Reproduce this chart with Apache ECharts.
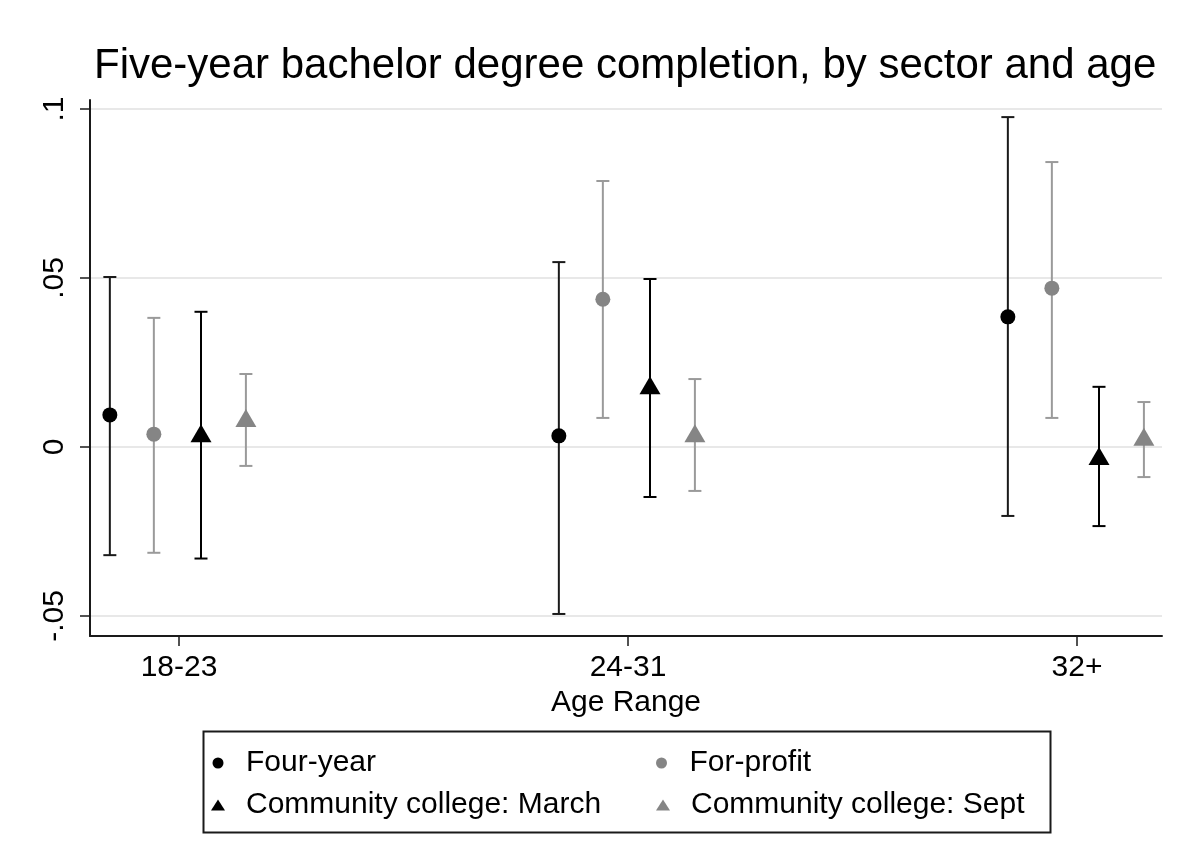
<!DOCTYPE html>
<html>
<head>
<meta charset="utf-8">
<script src="https://cdn.jsdelivr.net/npm/echarts@6/dist/echarts.min.js"></script>
<style>html,body{margin:0;padding:0;background:#fff;}#c{width:1187px;height:867px;}</style>
</head>
<body>
<div id="c"></div>
<script>
// ---- data ----
const categories = ['18-23', '24-31', '32+'];
const yTickValues = [-0.05, 0, 0.05, 0.1];
const seriesNames = ['Four-year', 'For-profit', 'Community college: March', 'Community college: Sept'];

const fourYear     = [0.0095, 0.0033, 0.0385];
const fourYearLo   = [-0.0320, -0.0494, -0.0204];
const fourYearHi   = [0.0503, 0.0547, 0.0976];

const forProfit    = [0.0038, 0.0437, 0.0470];
const forProfitLo  = [-0.0313, 0.0086, 0.0086];
const forProfitHi  = [0.0382, 0.0787, 0.0843];

const ccMarch      = [0.0041, 0.0183, -0.0027];
const ccMarchLo    = [-0.0330, -0.0148, -0.0234];
const ccMarchHi    = [0.0400, 0.0497, 0.0178];

const ccSept       = [0.0086, 0.0041, 0.0030];
const ccSeptLo     = [-0.0056, -0.0130, -0.0089];
const ccSeptHi     = [0.0216, 0.0201, 0.0133];

// ---- presentation ----
const FONT = '"Liberation Sans", Arial, Helvetica, sans-serif';
const dodge = [-0.154, -0.056, 0.049, 0.149];
const groups = [
  {name: seriesNames[0], v: fourYear,  lo: fourYearLo,  hi: fourYearHi,  symbol: 'circle',   size: 15,       color: '#000000', line: '#1a1a1a'},
  {name: seriesNames[1], v: forProfit, lo: forProfitLo, hi: forProfitHi, symbol: 'circle',   size: 15,       color: '#858585', line: '#9a9a9a'},
  {name: seriesNames[2], v: ccMarch,   lo: ccMarchLo,   hi: ccMarchHi,   symbol: 'triangle', size: [21, 18], color: '#000000', line: '#000000'},
  {name: seriesNames[3], v: ccSept,    lo: ccSeptLo,    hi: ccSeptHi,    symbol: 'triangle', size: [21, 18], color: '#858585', line: '#9a9a9a'}
];

function fmtY(v) {
  if (Math.abs(v) < 1e-12) return '0';
  const s = String(Math.abs(+v.toFixed(4))).replace(/^0/, '');
  return (v < 0 ? '-' : '') + s;
}

const series = [];
groups.forEach((g, k) => {
  series.push({
    type: 'custom',
    name: g.name,
    z: 2,
    silent: true,
    data: categories.map((c, i) => [i + 1 + dodge[k], g.lo[i], g.hi[i]]),
    encode: {x: 0, y: [1, 2]},
    renderItem: function (params, api) {
      const x = api.value(0);
      const pLo = api.coord([x, api.value(1)]);
      const pHi = api.coord([x, api.value(2)]);
      const hw = 6.5;
      const st = {stroke: g.line, lineWidth: 2};
      return {
        type: 'group',
        children: [
          {type: 'line', shape: {x1: pLo[0], y1: pLo[1], x2: pHi[0], y2: pHi[1]}, style: st},
          {type: 'line', shape: {x1: pLo[0] - hw, y1: pLo[1], x2: pLo[0] + hw, y2: pLo[1]}, style: st},
          {type: 'line', shape: {x1: pHi[0] - hw, y1: pHi[1], x2: pHi[0] + hw, y2: pHi[1]}, style: st}
        ]
      };
    }
  });
  series.push({
    type: 'scatter',
    name: g.name,
    z: 5,
    symbol: g.symbol,
    symbolSize: g.size,
    itemStyle: {color: g.color, opacity: 1},
    data: categories.map((c, i) => [i + 1 + dodge[k], g.v[i]])
  });
});

const chart = echarts.init(document.getElementById('c'), null, {renderer: 'canvas'});
chart.setOption({
  animation: false,
  backgroundColor: '#ffffff',
  title: {
    text: 'Five-year bachelor degree completion, by sector and age',
    left: 89, top: 40,
    textStyle: {fontFamily: FONT, fontSize: 42, fontWeight: 'normal', color: '#000'}
  },
  grid: {left: 90, right: 25, top: 100, bottom: 231, containLabel: false},
  xAxis: {
    type: 'value',
    min: 0.8018, max: 3.1893,
    name: 'Age Range',
    nameLocation: 'middle',
    nameGap: 46,
    nameTextStyle: {fontFamily: FONT, fontSize: 30, color: '#000'},
    axisLine: {onZero: false, lineStyle: {color: '#1a1a1a', width: 2}},
    axisTick: {customValues: [1, 2, 3], length: 10, lineStyle: {color: '#1a1a1a', width: 1.5}},
    axisLabel: {customValues: [1, 2, 3], margin: 17, fontFamily: FONT, fontSize: 30, color: '#000',
      formatter: v => categories[Math.round(v) - 1]},
    splitLine: {show: false}
  },
  yAxis: {
    type: 'value',
    min: -0.05592, max: 0.10266,
    axisLine: {show: true, onZero: false, lineStyle: {color: '#1a1a1a', width: 2}},
    axisTick: {show: true, customValues: yTickValues, length: 10, lineStyle: {color: '#1a1a1a', width: 1.5}},
    axisLabel: {customValues: yTickValues, rotate: 90, margin: 20, fontFamily: FONT, fontSize: 30, color: '#000',
      formatter: v => fmtY(v)},
    splitLine: {show: true, lineStyle: {color: '#e8e8e8', width: 2}}
  },
  legend: {
    left: 211, top: 747, width: 900,
    orient: 'horizontal',
    padding: 0,
    itemWidth: 14, itemHeight: 11, itemGap: 10,
    selectedMode: false,
    textStyle: {fontFamily: FONT, fontSize: 30, color: '#000', width: 400, lineHeight: 32, padding: [0, 0, 0, 16]},
    data: groups.map(g => ({name: g.name, icon: g.symbol, itemStyle: {color: g.color}}))
  },
  graphic: [{
    type: 'rect', left: 201, top: 729, silent: true,
    shape: {width: 847, height: 101},
    style: {fill: 'none', stroke: '#1a1a1a', lineWidth: 2}
  }],
  series: series
});
</script>
</body>
</html>
